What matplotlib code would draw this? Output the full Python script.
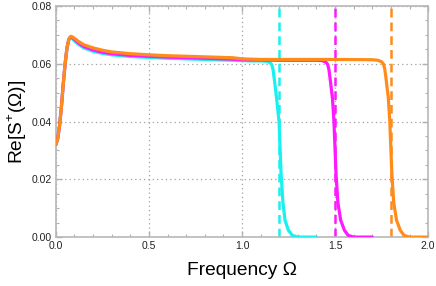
import matplotlib
matplotlib.use("Agg")
import matplotlib.pyplot as plt
from matplotlib.ticker import MultipleLocator

plt.rcParams['font.family'] = ['Liberation Sans', 'DejaVu Sans']
plt.rcParams['mathtext.fontset'] = 'custom'
plt.rcParams['mathtext.rm'] = 'Liberation Sans'

# common low-frequency part
x_low = [0.0, 0.01, 0.02, 0.03, 0.04, 0.05, 0.06, 0.07, 0.08, 0.09, 0.10, 0.12,
         0.15, 0.20, 0.25, 0.30, 0.40, 0.50, 0.60, 0.70, 0.80, 0.90, 0.95, 1.00, 1.05]
y_low_orange = [0.0320, 0.0340, 0.0385, 0.0450, 0.0530, 0.0600, 0.0655, 0.0686, 0.0695,
                0.0693, 0.0688, 0.0678, 0.0666, 0.0655, 0.0647, 0.0641, 0.0635, 0.0631,
                0.0628, 0.0626, 0.0624, 0.0622, 0.0621, 0.0617, 0.0616]
y_low_magenta = [0.0320, 0.0340, 0.0385, 0.0450, 0.0530, 0.0600, 0.0655, 0.0685, 0.0693,
                 0.0690, 0.0684, 0.0673, 0.0660, 0.0648, 0.0640, 0.0635, 0.0629, 0.0626,
                 0.0623, 0.0621, 0.0619, 0.0617, 0.0616, 0.0614, 0.0613]
y_low_cyan = [0.0320, 0.0340, 0.0385, 0.0450, 0.0530, 0.0600, 0.0654, 0.0683, 0.0690,
              0.0686, 0.0680, 0.0668, 0.0655, 0.0643, 0.0636, 0.0631, 0.0625, 0.0622,
              0.0619, 0.0617, 0.0615, 0.0613, 0.0612, 0.0611, 0.0610]

# cutoff edges
cutoffs = [1.2, 1.5, 1.8]
x_cyan_edge = [1.10, 1.13, 1.15, 1.16, 1.167, 1.175, 1.186, 1.199, 1.21, 1.22, 1.231,
               1.249, 1.27, 1.30, 1.40]
y_cyan_edge = [0.0610, 0.0609, 0.0604, 0.0597, 0.0580, 0.0540, 0.0480, 0.0400, 0.0220,
               0.0120, 0.0059, 0.0024, 0.0006, 0.0, 0.0]
x_mag_edge = [1.10, 1.20, 1.30, 1.40, 1.43, 1.45, 1.46, 1.467, 1.475, 1.486, 1.494,
              1.505, 1.515, 1.53, 1.55, 1.57, 1.60, 1.70]
y_mag_edge = [0.0613, 0.0612, 0.0612, 0.0612, 0.0611, 0.0606, 0.0598, 0.0580, 0.0540,
              0.0480, 0.0400, 0.0220, 0.0120, 0.0059, 0.0024, 0.0006, 0.0, 0.0]
x_org_edge = [1.10, 1.30, 1.50, 1.70, 1.73, 1.75, 1.76, 1.767, 1.775, 1.786, 1.794,
              1.805, 1.815, 1.83, 1.85, 1.87, 1.90, 2.00]
y_org_edge = [0.0615, 0.0615, 0.0615, 0.0614, 0.0612, 0.0607, 0.0599, 0.0582, 0.0542,
              0.0482, 0.0400, 0.0220, 0.0120, 0.0059, 0.0024, 0.0006, 0.0, 0.0]

colors = ['#19F0F0', '#FF19FF', '#FF8C1A']

fig = plt.figure(figsize=(4.36, 2.86), dpi=100)
ax = fig.add_axes([0.128, 0.171, 0.854, 0.808])

series = [
    (x_low + x_cyan_edge, y_low_cyan + y_cyan_edge),
    (x_low + x_mag_edge, y_low_magenta + y_mag_edge),
    (x_low + x_org_edge, y_low_orange + y_org_edge),
]
for (xs, ys), c in zip(series, colors):
    ax.plot(xs, ys, color=c, lw=2.3, solid_capstyle='round', solid_joinstyle='round', zorder=3)
for c, xc in zip(colors, cutoffs):
    ax.axvline(xc, color=c, lw=1.8, ls=(0, (3.5, 2)), zorder=2)

ax.set_xlim(0, 2.0)
ax.set_ylim(0, 0.08)
ax.xaxis.set_major_locator(MultipleLocator(0.5))
ax.xaxis.set_minor_locator(MultipleLocator(0.1))
ax.yaxis.set_major_locator(MultipleLocator(0.02))
ax.yaxis.set_minor_locator(MultipleLocator(0.005))
ax.xaxis.set_major_formatter(matplotlib.ticker.FormatStrFormatter('%.1f'))
ax.yaxis.set_major_formatter(matplotlib.ticker.FormatStrFormatter('%.2f'))
ax.tick_params(which='both', direction='in', top=True, right=True, color='#b0b0b0',
               labelsize=7.5, labelcolor='#222222')
ax.tick_params(which='major', length=4, width=1, pad=3)
ax.tick_params(which='minor', length=2.5, width=0.8)
for s in ax.spines.values():
    s.set_color('#b8b8b8')
    s.set_linewidth(1.2)
ax.grid(True, which='major', color='#a0a0a0', ls=(0, (1, 2.5)), lw=0.9)

ax.set_xlabel('Frequency Ω', fontsize=13.8, labelpad=8)
ax.set_ylabel('Re[S$^{+}$(Ω)]', fontsize=13.8, labelpad=2)

fig.savefig('out.png', dpi=100)
